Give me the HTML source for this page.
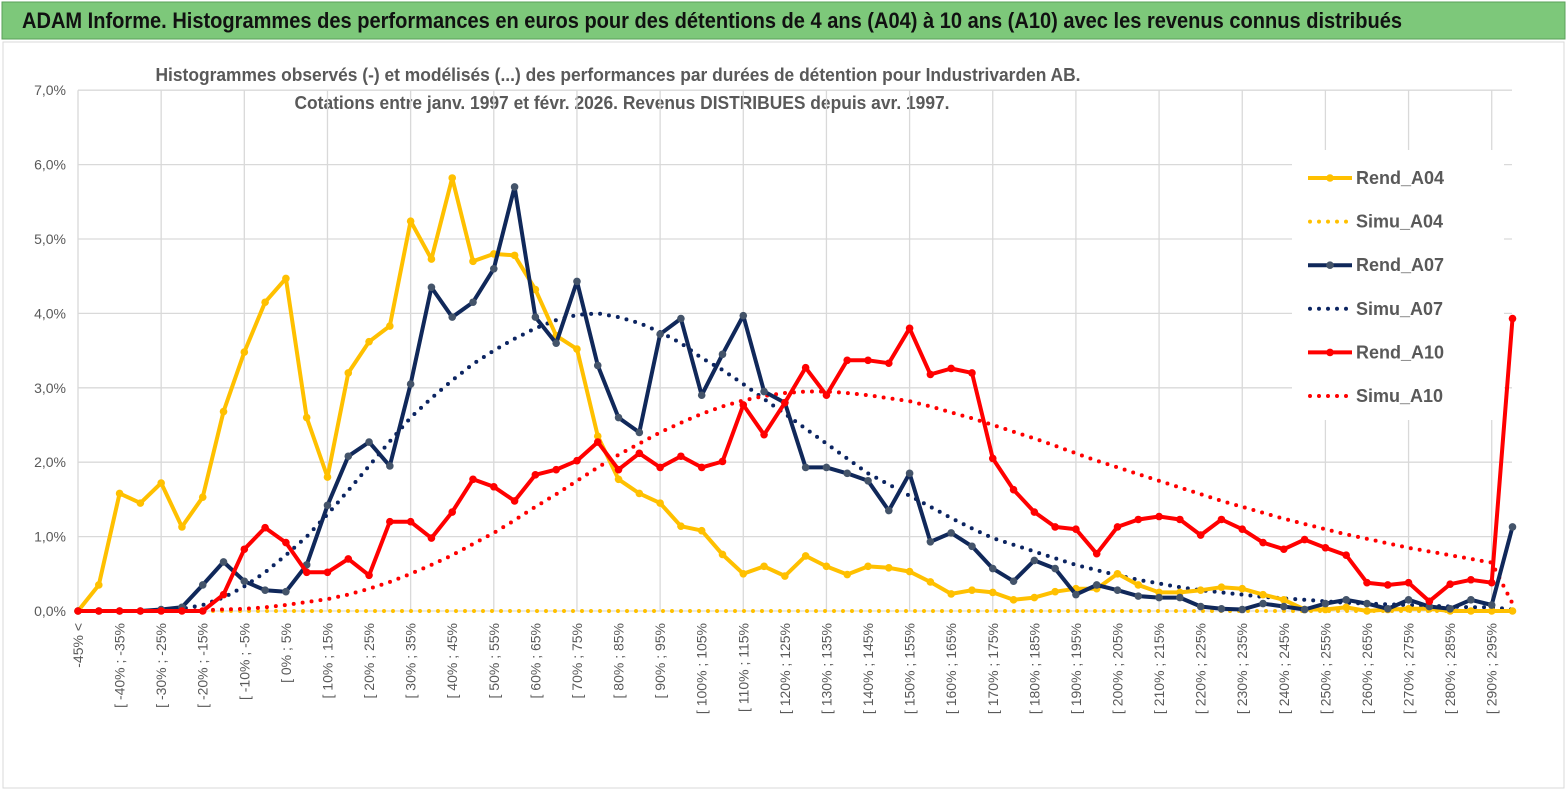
<!DOCTYPE html>
<html><head><meta charset="utf-8"><style>
body{margin:0;background:#fff;}
svg{display:block;font-family:"Liberation Sans Narrow","Liberation Sans",sans-serif;}
</style></head><body>
<svg id="c" width="1567" height="791" viewBox="0 0 1567 791">
<rect x="0" y="0" width="1567" height="791" fill="#fff"/>
<rect x="2" y="2" width="1563" height="37" fill="#7dc87a" stroke="#5aa05a"/>
<text x="22" y="28" font-size="22" font-weight="bold" fill="#111" textLength="1380" lengthAdjust="spacingAndGlyphs">ADAM Informe. Histogrammes des performances en euros pour des détentions de 4 ans (A04) à 10 ans (A10) avec les revenus connus distribués</text>
<rect x="3" y="42" width="1561" height="746" fill="none" stroke="#d9d9d9"/>
<text x="618" y="81" font-size="18" font-weight="bold" fill="#595959" text-anchor="middle" textLength="925" lengthAdjust="spacingAndGlyphs">Histogrammes observés (-) et modélisés (...) des performances par durées de détention pour Industrivarden AB.</text>
<text x="622" y="109" font-size="18" font-weight="bold" fill="#595959" text-anchor="middle" textLength="655" lengthAdjust="spacingAndGlyphs">Cotations entre janv. 1997 et févr. 2026. Revenus DISTRIBUES depuis avr. 1997.</text>
<g id="grid"></g><g id="legbg"></g><g id="series"></g><g id="axes"></g><g id="legend"></g>
</svg>
<script>
const NS="http://www.w3.org/2000/svg";
const yTicks=[0,1,2,3,4,5,6,7];
const rend04=[0,0.35,1.58,1.45,1.72,1.13,1.53,2.68,3.48,4.15,4.47,2.6,1.8,3.2,3.62,3.83,5.24,4.73,5.82,4.7,4.8,4.78,4.32,3.7,3.52,2.35,1.77,1.58,1.45,1.14,1.08,0.76,0.5,0.6,0.47,0.74,0.6,0.49,0.6,0.58,0.53,0.39,0.23,0.28,0.25,0.15,0.18,0.26,0.3,0.3,0.5,0.35,0.25,0.25,0.28,0.32,0.3,0.22,0.15,0.02,0.02,0.05,0,0.02,0.03,0.03,0,0,0,0];
const rend07=[0,0,0,0,0.02,0.05,0.35,0.66,0.4,0.28,0.26,0.62,1.42,2.08,2.27,1.95,3.05,4.35,3.95,4.15,4.6,5.7,3.95,3.6,4.43,3.3,2.6,2.4,3.72,3.93,2.9,3.45,3.97,2.95,2.8,1.93,1.93,1.85,1.75,1.35,1.85,0.93,1.05,0.87,0.57,0.4,0.68,0.57,0.22,0.35,0.28,0.2,0.18,0.18,0.06,0.03,0.02,0.1,0.06,0.02,0.1,0.15,0.1,0.03,0.15,0.06,0.03,0.15,0.08,1.13];
const rend10=[0,0,0,0,0,0,0,0.22,0.83,1.12,0.92,0.52,0.52,0.7,0.48,1.2,1.2,0.98,1.33,1.77,1.67,1.48,1.83,1.9,2.02,2.27,1.9,2.12,1.93,2.08,1.93,2.01,2.77,2.37,2.8,3.27,2.9,3.37,3.37,3.33,3.8,3.18,3.26,3.2,2.05,1.63,1.33,1.13,1.1,0.77,1.13,1.23,1.27,1.23,1.02,1.23,1.1,0.92,0.83,0.96,0.85,0.75,0.38,0.35,0.38,0.13,0.36,0.42,0.38,3.93];
const simu04=[0,0,0,0,0,0,0,0,0,0,0,0,0,0,0,0,0,0,0,0,0,0,0,0,0,0,0,0,0,0,0,0,0,0,0,0,0,0,0,0,0,0,0,0,0,0,0,0,0,0,0,0,0,0,0,0,0,0,0,0,0,0,0,0,0,0,0,0,0,0];
const simu07=[0,0,0,0,0.01,0.03,0.08,0.18,0.33,0.52,0.75,1.0,1.3,1.62,1.95,2.28,2.6,2.86,3.1,3.32,3.5,3.66,3.8,3.91,3.98,4.0,3.95,3.87,3.75,3.6,3.4,3.24,3.05,2.85,2.65,2.45,2.25,2.05,1.85,1.7,1.55,1.4,1.25,1.11,0.98,0.89,0.8,0.71,0.62,0.55,0.48,0.42,0.37,0.32,0.28,0.25,0.22,0.19,0.17,0.15,0.13,0.11,0.1,0.09,0.08,0.07,0.06,0.05,0.05,0.02];
const simu10=[0,0,0,0,0,0,0.01,0.02,0.03,0.05,0.08,0.12,0.16,0.22,0.3,0.39,0.5,0.62,0.75,0.9,1.05,1.22,1.4,1.57,1.75,1.93,2.1,2.25,2.4,2.53,2.65,2.75,2.83,2.89,2.93,2.95,2.95,2.93,2.9,2.86,2.82,2.75,2.67,2.59,2.5,2.41,2.32,2.22,2.12,2.02,1.93,1.84,1.75,1.66,1.57,1.48,1.4,1.32,1.24,1.17,1.1,1.03,0.97,0.91,0.85,0.8,0.75,0.7,0.65,0.1];
const catLabels=["-45% <"];
for(let v=-40;v<=290;v+=10) catLabels.push("[ "+v+"% ; "+(v+5)+"%");
const X0=78,STEP=20.79,Y0=611,YS=74.4;
const xs=i=>X0+STEP*i, ys=v=>Y0-v*YS;
function mk(t,a,p){const e=document.createElementNS(NS,t);for(const k in a)e.setAttribute(k,a[k]);(p||document.getElementById('c')).appendChild(e);return e;}
const grid=document.getElementById('grid'),axes=document.getElementById('axes'),ser=document.getElementById('series'),leg=document.getElementById('legend'),legbg=document.getElementById('legbg');
yTicks.forEach(t=>{
 const l=mk('line',{x1:X0,x2:1512,y1:ys(t),y2:ys(t),stroke:'#d9d9d9','stroke-width':1.3},grid);
 
 
 const tx=mk('text',{x:66,y:ys(t)+5,'text-anchor':'end','font-size':14,fill:'#595959'},axes);
 tx.textContent=t.toFixed(1).replace('.',',')+'%';
 
 
});
for(let i=0;i<=68;i+=4){
 const l=mk('line',{x1:xs(i),x2:xs(i),y1:ys(7),y2:Y0,stroke:'#d9d9d9','stroke-width':1.3},grid);
 
 
}
catLabels.forEach((s,k)=>{
 const x=xs(k*2)+5;
 const tx=mk('text',{x:0,y:0,'text-anchor':'end','font-size':14,fill:'#595959',transform:`translate(${x},623) rotate(-90)`},axes);
 tx.textContent=s;
 
 
});
function pts(a){return a.map((v,i)=>xs(i).toFixed(1)+','+ys(v).toFixed(1)).join(' ');}
function dotted(a,col,name){
 const p=mk('polyline',{points:pts(a),fill:'none',stroke:col,'stroke-width':4,'stroke-linecap':'round','stroke-dasharray':'0 9'},ser);
 
 
}
function solid(a,col,mcol,name){
 const g=mk('g',{},ser);
 
 
 mk('polyline',{points:pts(a),fill:'none',stroke:col,'stroke-width':4,'stroke-linejoin':'round'},g);
 a.forEach((v,i)=>{
  const c=mk('circle',{cx:xs(i),cy:ys(v),r:3.8,fill:mcol},g);
  
  
 });
}
const lb=mk('rect',{x:1292,y:150,width:212,height:270,fill:'#fff'},legbg);


dotted(simu04,'#FFC000','simu-a04-line');
dotted(simu07,'#0b2461','simu-a07-line');
dotted(simu10,'#f00','simu-a10-line');
solid(rend04,'#FFC000','#FFC000','rend-a04-line');
solid(rend07,'#10285a','#44546a','rend-a07-line');
solid(rend10,'#f00','#f00','rend-a10-line');
const legItems=[["Rend_A04","#FFC000",false,"#FFC000"],["Simu_A04","#FFC000",true],["Rend_A07","#10285a",false,"#44546a"],["Simu_A07","#0b2461",true],["Rend_A10","#f00",false,"#f00"],["Simu_A10","#f00",true]];
legItems.forEach((it,k)=>{
 const y=178+k*43.6;
 const g=mk('g',{},leg);
 
 
 if(it[2]) mk('line',{x1:1310,x2:1350,y1:y,y2:y,stroke:it[1],'stroke-width':4,'stroke-linecap':'round','stroke-dasharray':'0 9'},g);
 else {mk('line',{x1:1308,x2:1352,y1:y,y2:y,stroke:it[1],'stroke-width':4},g);mk('circle',{cx:1330,cy:y,r:3.8,fill:it[3]},g);}
 const t=mk('text',{x:1356,y:y+6,'font-size':18,'font-weight':'bold',fill:'#595959'},g);
 t.textContent=it[0];
});
</script>
</body></html>
